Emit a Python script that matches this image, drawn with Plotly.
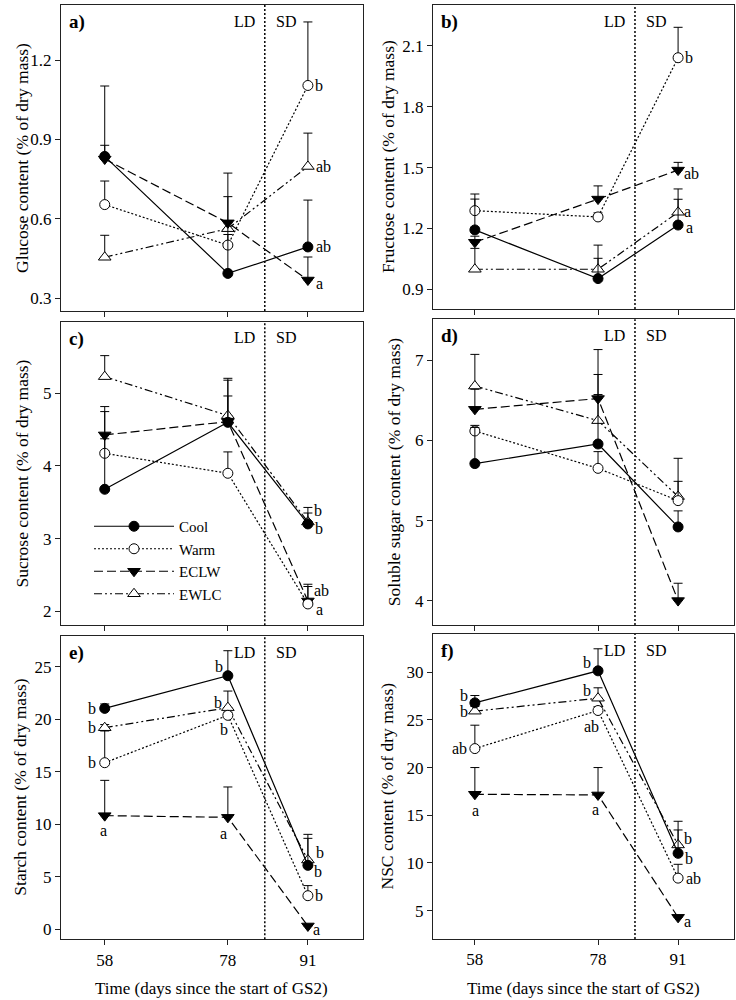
import plotly.graph_objects as go

# ---------------- data ----------------
days = [58, 78, 91]
series = ["Cool", "Warm", "ECLW", "EWLC"]
period_change_day = 84

glucose_mean = {"Cool": [0.836, 0.394, 0.494], "Warm": [0.654, 0.501, 1.104],
                "ECLW": [0.826, 0.585, 0.369], "EWLC": [0.455, 0.563, 0.798]}
glucose_se = {"Cool": [0.266, 0.290, 0.177], "Warm": [0.089, 0.040, 0.240],
              "ECLW": [0.052, 0.188, 0.087], "EWLC": [0.083, 0.030, 0.126]}
glucose_letters = {"Cool": ["", "", "ab"], "Warm": ["", "", "b"],
                   "ECLW": ["", "", "a"], "EWLC": ["", "", "ab"]}

fructose_mean = {"Cool": [1.193, 0.953, 1.217], "Warm": [1.288, 1.257, 2.042],
                 "ECLW": [1.132, 1.345, 1.488], "EWLC": [0.999, 0.999, 1.280]}
fructose_se = {"Cool": [0.152, 0.100, 0.127], "Warm": [0.082, 0.020, 0.150],
               "ECLW": [0.030, 0.065, 0.038], "EWLC": [0.103, 0.119, 0.115]}
fructose_letters = {"Cool": ["", "", "a"], "Warm": ["", "", "b"],
                    "ECLW": ["", "", "ab"], "EWLC": ["", "", "a"]}

sucrose_mean = {"Cool": [3.679, 4.600, 3.202], "Warm": [4.174, 3.899, 2.101],
                "ECLW": [4.427, 4.610, 2.142], "EWLC": [5.229, 4.693, 3.229]}
sucrose_se = {"Cool": [1.069, 0.580, 0.150], "Warm": [0.200, 0.294, 0.240],
              "ECLW": [0.390, 0.353, 0.230], "EWLC": [0.289, 0.513, 0.200]}
sucrose_letters = {"Cool": ["", "", "b"], "Warm": ["", "", "a"],
                   "ECLW": ["", "", "ab"], "EWLC": ["", "", "b"]}

soluble_mean = {"Cool": [5.710, 5.954, 4.921], "Warm": [6.116, 5.651, 5.249],
                "ECLW": [6.386, 6.520, 4.004], "EWLC": [6.676, 6.245, 5.300]}
soluble_se = {"Cool": [0.450, 0.866, 0.200], "Warm": [0.070, 0.208, 0.240],
              "ECLW": [0.250, 0.050, 0.216], "EWLC": [0.394, 0.885, 0.476]}
soluble_letters = {"Cool": ["", "", ""], "Warm": ["", "", ""],
                   "ECLW": ["", "", ""], "EWLC": ["", "", ""]}

starch_mean = {"Cool": [21.03, 24.14, 6.09], "Warm": [15.86, 20.37, 3.20],
               "ECLW": [10.82, 10.66, 0.32], "EWLC": [19.19, 21.10, 6.60]}
starch_se = {"Cool": [0.42, 2.38, 2.57], "Warm": [3.02, 0.30, 0.96],
             "ECLW": [3.36, 2.89, 0.10], "EWLC": [0.30, 1.58, 2.44]}
starch_letters = {"Cool": ["b", "b", "b"], "Warm": ["b", "b", "b"],
                  "ECLW": ["a", "a", "a"], "EWLC": ["b", "b", "b"]}

nsc_mean = {"Cool": [26.78, 30.14, 11.01], "Warm": [21.99, 25.98, 8.41],
            "ECLW": [17.20, 17.13, 4.30], "EWLC": [25.91, 27.27, 11.89]}
nsc_se = {"Cool": [0.77, 2.31, 3.36], "Warm": [2.45, 0.40, 1.45],
          "ECLW": [2.80, 2.87, 0.10], "EWLC": [0.50, 1.09, 1.57]}
nsc_letters = {"Cool": ["b", "b", "b"], "Warm": ["ab", "ab", "ab"],
               "ECLW": ["a", "a", "a"], "EWLC": ["b", "b", "b"]}

panel_labels = ["a)", "b)", "c)", "d)", "e)", "f)"]
y_titles = ["Glucose content (% of dry mass)", "Fructose content (% of dry mass)",
            "Sucrose content (% of dry mass)", "Soluble sugar content (% of dry mass)",
            "Starch content (% of dry mass)", "NSC content (% of dry mass)"]
y_ticks = [[0.3, 0.6, 0.9, 1.2], [0.9, 1.2, 1.5, 1.8, 2.1], [2, 3, 4, 5],
           [4, 5, 6, 7], [0, 5, 10, 15, 20, 25], [5, 10, 15, 20, 25, 30]]
x_title = "Time (days since the start of GS2)"

panel_means = [glucose_mean, fructose_mean, sucrose_mean, soluble_mean, starch_mean, nsc_mean]
panel_ses = [glucose_se, fructose_se, sucrose_se, soluble_se, starch_se, nsc_se]
panel_letters = [glucose_letters, fructose_letters, sucrose_letters, soluble_letters,
                 starch_letters, nsc_letters]

# ---------------- style ----------------
W, H = 736, 1000
FONT = "Liberation Serif, Times New Roman, serif"

# plot frames in pixels: (left, right, top, bottom)
frames = [(61, 362.7, 5, 311), (433, 733.5, 5, 309),
          (61, 362.7, 321.7, 625.3), (433, 733.5, 319.3, 625),
          (61, 362.7, 636, 939.3), (433, 733.5, 634, 939)]
y_ranges = [[0.252, 1.408], [0.803, 2.302], [1.807, 5.985], [3.70, 7.507],
            [-0.95, 27.92], [2.03, 34.0]]
x_ranges = [[50.9, 99.9], [51.2, 100.0]] * 3
y_title_x = [22, 388, 21, 394, 20, 386]

styles = {
    "Cool": dict(dash="solid", symbol="circle", fill="black", size=10),
    "Warm": dict(dash="2px,2px", symbol="circle", fill="white", size=10),
    "ECLW": dict(dash="9px,4px", symbol="triangle-down", fill="black", size=11),
    "EWLC": dict(dash="8px,3px,2px,3px,2px,3px", symbol="triangle-up", fill="white", size=11),
}
draw_order = ["EWLC", "ECLW", "Warm", "Cool"]
legend_rank = {"Cool": 1, "Warm": 2, "ECLW": 3, "EWLC": 4}

# letter placement: (panel, series, index) -> (xanchor, xshift, yshift)
R = lambda dy=0, dx=5: ("left", dx, dy)
letter_pos = {
    (0, "Warm", 2): R(0), (0, "EWLC", 2): R(0, 6), (0, "Cool", 2): R(0, 6), (0, "ECLW", 2): R(-3, 6),
    (1, "Warm", 2): R(0), (1, "ECLW", 2): R(-3, 4), (1, "EWLC", 2): R(1, 4), (1, "Cool", 2): R(-2, 6),
    (2, "EWLC", 2): R(11, 4), (2, "Cool", 2): R(-5, 5), (2, "ECLW", 2): R(10, 4), (2, "Warm", 2): R(-6, 6),
    (4, "Cool", 0): ("right", -7, 0), (4, "EWLC", 0): ("right", -7, 0),
    (4, "Warm", 0): ("right", -7, 0), (4, "ECLW", 0): ("center", -1, -15),
    (4, "Cool", 1): ("center", -9, 9), (4, "EWLC", 1): ("center", -10, 5),
    (4, "Warm", 1): ("center", -4, -14), (4, "ECLW", 1): ("center", -4, -16),
    (4, "EWLC", 2): ("center", 12, 7), (4, "Cool", 2): ("center", 10, -6),
    (4, "Warm", 2): ("center", 11, 0), (4, "ECLW", 2): ("center", 9, -4),
    (5, "Cool", 0): ("center", -11, 7), (5, "EWLC", 0): ("center", -11, 0),
    (5, "Warm", 0): ("right", -6, 0), (5, "ECLW", 0): ("center", 1, -16),
    (5, "Cool", 1): ("center", -11, 8), (5, "EWLC", 1): ("center", -11, 8),
    (5, "Warm", 1): ("center", -7, -16), (5, "ECLW", 1): ("center", -3, -15),
    (5, "EWLC", 2): ("center", 10, 6), (5, "Cool", 2): ("center", 11, -5),
    (5, "Warm", 2): ("left", 6, 0), (5, "ECLW", 2): ("center", 9, -4),
}

fig = go.Figure()
annotations = []
shapes = []
layout_axes = {}

for p in range(6):
    n = p + 1
    xa = "x" if n == 1 else f"x{n}"
    ya = "y" if n == 1 else f"y{n}"
    xkey = "xaxis" if n == 1 else f"xaxis{n}"
    ykey = "yaxis" if n == 1 else f"yaxis{n}"
    l, r, t, b = frames[p]
    bottom_row = p >= 4

    layout_axes[xkey] = dict(
        domain=[l / W, r / W], anchor=ya, range=x_ranges[p],
        tickvals=days, showticklabels=bottom_row, ticks="outside", ticklen=5,
        tickwidth=1, tickcolor="#222", showline=True, linecolor="#222", linewidth=1,
        mirror=True, showgrid=False, zeroline=False,
        tickfont=dict(family=FONT, size=17, color="black"))
    fmt = ".1f" if p < 2 else "d"
    layout_axes[ykey] = dict(
        domain=[1 - b / H, 1 - t / H], anchor=xa, range=y_ranges[p],
        tickvals=y_ticks[p], tickformat=fmt, ticks="outside", ticklen=5,
        tickwidth=1, tickcolor="#222", showline=True, linecolor="#222", linewidth=1,
        mirror=True, showgrid=False, zeroline=False,
        tickfont=dict(family=FONT, size=17, color="black"))

    for s in draw_order:
        st = styles[s]
        fig.add_trace(go.Scatter(
            x=days, y=panel_means[p][s], xaxis=xa, yaxis=ya, name=s,
            mode="lines+markers", showlegend=(p == 2),
            legendrank=legend_rank[s],
            line=dict(color="black", width=1.2, dash=st["dash"]),
            marker=dict(symbol=st["symbol"], size=st["size"], color=st["fill"],
                        line=dict(color="black", width=1)),
            error_y=dict(type="data", symmetric=False, array=panel_ses[p][s],
                         arrayminus=[0, 0, 0], color="black", thickness=1, width=4.5),
        ))
        for i, letter in enumerate(panel_letters[p][s]):
            if not letter:
                continue
            anc, dx, dy = letter_pos[(p, s, i)]
            annotations.append(dict(
                x=days[i], y=panel_means[p][s][i], xref=xa, yref=ya, text=letter,
                showarrow=False, xanchor=anc, yanchor="middle", xshift=dx, yshift=dy,
                font=dict(family=FONT, size=16, color="black")))

    # LD / SD separator
    shapes.append(dict(type="line", xref=xa, yref=f"{ya} domain", x0=period_change_day,
                       x1=period_change_day, y0=0, y1=1,
                       line=dict(color="black", width=1.5, dash="2px,2px")))
    annotations.append(dict(x=period_change_day, y=1, xref=xa, yref=f"{ya} domain",
                            text="LD", showarrow=False, xanchor="right", yanchor="middle",
                            xshift=-8, yshift=-16, font=dict(family=FONT, size=16, color="black")))
    annotations.append(dict(x=period_change_day, y=1, xref=xa, yref=f"{ya} domain",
                            text="SD", showarrow=False, xanchor="left", yanchor="middle",
                            xshift=9, yshift=-16, font=dict(family=FONT, size=16, color="black")))
    # panel label
    annotations.append(dict(x=0, y=1, xref=f"{xa} domain", yref=f"{ya} domain",
                            text=f"<b>{panel_labels[p]}</b>", showarrow=False,
                            xanchor="left", yanchor="middle", xshift=6, yshift=-17,
                            font=dict(family=FONT, size=19, color="black")))
    # y title
    annotations.append(dict(x=y_title_x[p] / W, y=1 - (t + b) / 2 / H, xref="paper", yref="paper",
                            text=y_titles[p], showarrow=False, textangle=-90,
                            xanchor="center", yanchor="middle",
                            font=dict(family=FONT, size=17.5, color="black")))
    if bottom_row:
        annotations.append(dict(x=(l + r) / 2 / W, y=1 - 988 / H, xref="paper", yref="paper",
                                text=x_title, showarrow=False, xanchor="center",
                                yanchor="middle", font=dict(family=FONT, size=17, color="black")))

fig.update_layout(
    width=W, height=H, margin=dict(l=0, r=0, t=0, b=0),
    paper_bgcolor="white", plot_bgcolor="white",
    annotations=annotations, shapes=shapes,
    showlegend=True,
    legend=dict(x=89 / W, y=1 - 510 / H, xanchor="left", yanchor="top",
                bgcolor="rgba(0,0,0,0)", borderwidth=0, itemwidth=80,
                tracegroupgap=0, font=dict(family=FONT, size=15, color="black")),
    **layout_axes,
)

fig.write_html("out.html", config={"displayModeBar": False},
               post_script="document.body.style.margin='0';")
